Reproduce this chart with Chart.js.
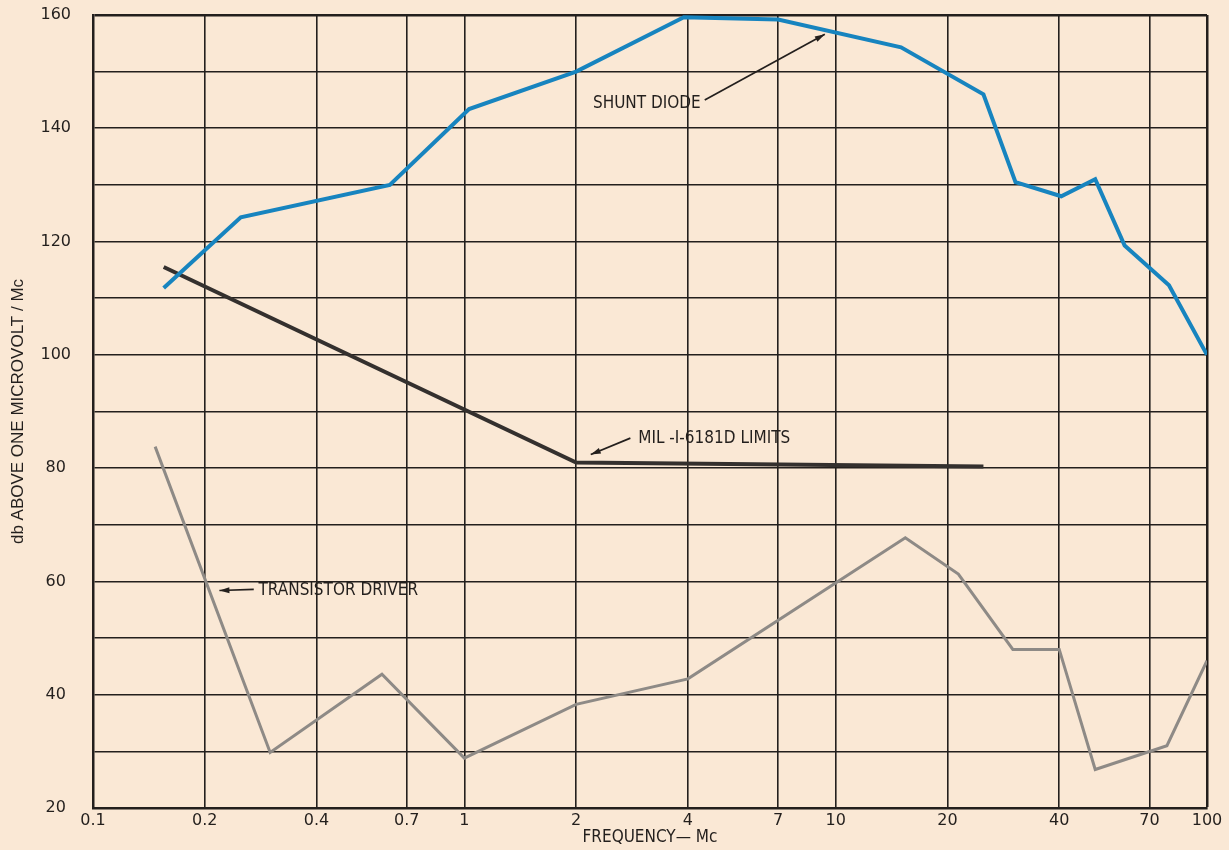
<!DOCTYPE html>
<html>
<head>
<meta charset="utf-8">
<script src="https://cdn.jsdelivr.net/npm/chart.js@4.4.1/dist/chart.umd.min.js"></script>
<style>
  html, body { margin: 0; padding: 0; background: #fae8d5; }
  #wrap { width: 1229px; height: 850px; }
</style>
</head>
<body>
<div id="wrap"><canvas id="emiChart"></canvas></div>
<script>
// tick values printed on the frequency axis (Mc)
var freqTicks = [0.1, 0.2, 0.4, 0.7, 1, 2, 4, 7, 10, 20, 40, 70, 100];

// shunt diode curve
var diodeFreq = [0.155, 0.25, 0.63, 1.03, 2, 3.9, 7, 15, 25, 30.5, 40.5, 50, 60, 79, 100];
var diodeDb   = [111.8, 124.3, 130, 143.4, 150, 159.6, 159.2, 154.3, 146, 130.5, 128, 131, 119.3, 112.3, 100];

// MIL-I-6181D limit line
var milFreq = [0.155, 2, 25];
var milDb   = [115.5, 81, 80.3];

// transistor driver curve
var transFreq = [0.147, 0.3, 0.6, 1, 2, 4, 15.4, 21.4, 30, 40, 50, 78, 100];
var transDb   = [83.8, 29.8, 43.6, 28.8, 38.3, 42.8, 67.7, 61.3, 48, 48, 26.8, 31, 46];

function pts(xs, ys) {
  return xs.map(function (x, i) { return { x: x, y: ys[i] }; });
}

var inkColor = '#231f1d';
var labelFont = "'Liberation Sans Narrow', 'DejaVu Sans Condensed', 'Liberation Sans', sans-serif";

// callout texts with their arrows, placed in data units
var notes = [
  { text: 'SHUNT DIODE', at: [2.22, 144.3], from: [4.44, 145], to: [9.35, 156.6] },
  { text: 'MIL -I-6181D LIMITS', at: [2.94, 85.3], from: [2.8, 85.3], to: [2.19, 82.4] },
  { text: 'TRANSISTOR DRIVER', at: [0.279, 58.4], from: [0.271, 58.6], to: [0.219, 58.4] }
];

var calloutPlugin = {
  id: 'callouts',
  afterDatasetsDraw: function (chart) {
    var c = chart.ctx, xs = chart.scales.x, ys = chart.scales.y;
    c.save();
    c.fillStyle = inkColor;
    c.strokeStyle = inkColor;
    c.font = '17px ' + labelFont;
    c.textBaseline = 'middle';
    c.textAlign = 'left';
    notes.forEach(function (n) {
      c.fillText(n.text, xs.getPixelForValue(n.at[0]), ys.getPixelForValue(n.at[1]));
      var x0 = xs.getPixelForValue(n.from[0]), y0 = ys.getPixelForValue(n.from[1]);
      var x1 = xs.getPixelForValue(n.to[0]), y1 = ys.getPixelForValue(n.to[1]);
      c.lineWidth = 1.7;
      c.beginPath(); c.moveTo(x0, y0); c.lineTo(x1, y1); c.stroke();
      var a = Math.atan2(y1 - y0, x1 - x0);
      c.beginPath();
      c.moveTo(x1, y1);
      c.lineTo(x1 - 10 * Math.cos(a) + 3 * Math.sin(a), y1 - 10 * Math.sin(a) - 3 * Math.cos(a));
      c.lineTo(x1 - 10 * Math.cos(a) - 3 * Math.sin(a), y1 - 10 * Math.sin(a) + 3 * Math.cos(a));
      c.closePath(); c.fill();
    });
    c.restore();
  }
};

var ctx = document.getElementById('emiChart').getContext('2d');
var emiChart = new Chart(ctx, {
  type: 'line',
  data: {
    datasets: [{
      label: 'Shunt diode',
      data: pts(diodeFreq, diodeDb),
      borderColor: '#1784bf',
      borderWidth: 4,
      pointRadius: 0,
      tension: 0
    }, {
      label: 'MIL-I-6181D limits',
      data: pts(milFreq, milDb),
      borderColor: '#34302e',
      borderWidth: 4,
      pointRadius: 0,
      tension: 0
    }, {
      label: 'Transistor driver',
      data: pts(transFreq, transDb),
      borderColor: '#8e8a86',
      borderWidth: 3,
      pointRadius: 0,
      tension: 0
    }]
  },
  options: {
    responsive: true,
    maintainAspectRatio: false,
    animation: false,
    layout: { padding: { top: 15, right: 22, bottom: 0, left: 0 } },
    plugins: {
      legend: { display: false },
      tooltip: { enabled: false }
    },
    scales: {
      x: {
        type: 'logarithmic',
        min: 0.1,
        max: 100,
        afterBuildTicks: function (scale) {
          scale.ticks = freqTicks.map(function (v) { return { value: v }; });
        },
        afterFit: function (scale) { scale.height = 42; },
        ticks: {
          autoSkip: false,
          maxRotation: 0,
          padding: 3,
          color: inkColor,
          font: { family: 'DejaVu Sans', size: 16 },
          callback: function (v) { return String(v); }
        },
        grid: {
          drawTicks: false,
          color: inkColor,
          lineWidth: function (c) { return c.tick && c.tick.value === 100 ? 2.5 : 1.6; }
        },
        border: { color: inkColor, width: 2.5 },
        title: {
          display: true,
          text: 'FREQUENCY\u2014 Mc',
          color: inkColor,
          font: { family: labelFont, size: 17 },
          padding: { top: 0, bottom: 2 }
        }
      },
      y: {
        min: 20,
        max: 160,
        afterFit: function (scale) { scale.width = 93; },
        ticks: {
          stepSize: 10,
          padding: 2,
          crossAlign: 'center',
          color: inkColor,
          font: { family: 'DejaVu Sans', size: 16 },
          callback: function (v) { return v % 20 === 0 ? v : ''; }
        },
        grid: {
          drawTicks: true,
          tickLength: 20,
          tickColor: 'rgba(0,0,0,0)',
          color: inkColor,
          lineWidth: function (c) { return c.tick && c.tick.value === 160 ? 2.5 : 1.6; }
        },
        border: { color: inkColor, width: 2.5 },
        title: {
          display: true,
          text: 'db ABOVE ONE MICROVOLT / Mc',
          color: inkColor,
          font: { family: "'Liberation Sans', Arial, sans-serif", size: 17 },
          padding: { top: 8, bottom: 0 }
        }
      }
    }
  },
  plugins: [calloutPlugin]
});
</script>
</body>
</html>
